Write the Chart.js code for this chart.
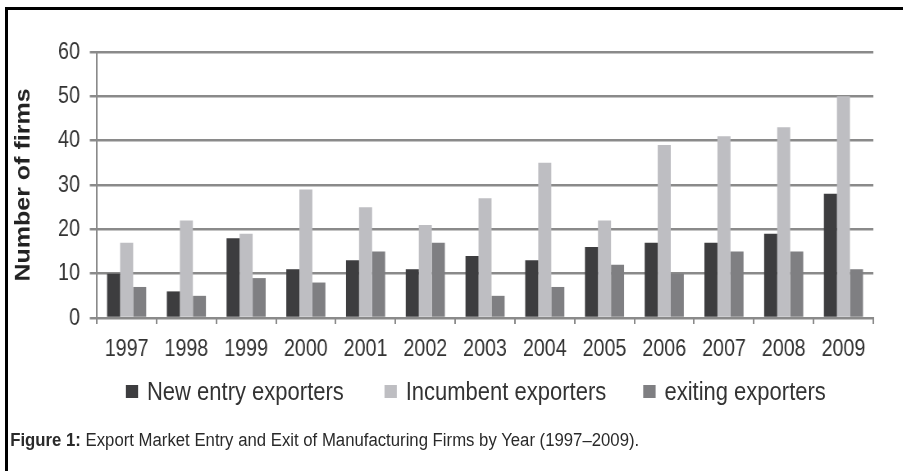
<!DOCTYPE html>
<html lang="en">
<head>
<meta charset="UTF-8">
<title>Export Market Entry and Exit of Manufacturing Firms</title>
<script src="https://cdn.jsdelivr.net/npm/chart.js"></script>
<style>
  html, body { margin: 0; padding: 0; background: #fff; overflow: hidden; }
  body { width: 903px; height: 471px; position: relative; font-family: 'Liberation Sans', Arial, sans-serif; }
  #frame { position: absolute; left: 5px; top: 7px; width: 930px; height: 480px; border-left: 3px solid #000; border-top: 3px solid #000; }
  /* the chart is laid out wide, then squeezed horizontally */
  #squeeze { position: absolute; left: 0; top: 0; width: 1101px; height: 471px; transform: scaleX(0.82); transform-origin: 0 0; }
  #chart { position: absolute; left: 0; top: 0; }
  #legendWrap { position: absolute; left: 0; top: 0; width: 1030px; height: 471px; transform: scaleX(0.88); transform-origin: 0 0; }
  #legend { position: absolute; left: 0; top: 378px; width: 1030px; height: 26px; font-size: 25px; line-height: 26px; color: #333; white-space: nowrap; }
  #legend .item { position: absolute; top: 0; display: flex; align-items: center; }
  #legend .box { width: 14px; height: 13px; margin-right: 10px; }
  #captionWrap { position: absolute; left: 0; top: 0; width: 1000px; height: 471px; transform: scaleX(0.93); transform-origin: 0 0; }
  #caption { position: absolute; left: 11px; top: 431px; font-size: 18px; line-height: 18px; color: #2a2a2a; white-space: nowrap; }
</style>
</head>
<body>
<div id="frame"></div>
<div id="squeeze">
  <canvas id="chart" width="1101" height="366"></canvas>
</div>
<div id="legendWrap">
  <div id="legend"></div>
</div>
<div id="captionWrap">
  <div id="caption"><b>Figure 1:</b> Export Market Entry and Exit of Manufacturing Firms by Year (1997–2009).</div>
</div>

<script>
  // Years on the x axis
  const years = ['1997', '1998', '1999', '2000', '2001', '2002', '2003', '2004', '2005', '2006', '2007', '2008', '2009'];

  // Number of firms per group
  const newEntry  = [10, 6, 18, 11, 13, 11, 14, 13, 16, 17, 17, 19, 28];
  const incumbent = [17, 22, 19, 29, 25, 21, 27, 35, 22, 39, 41, 43, 50];
  const exiting   = [7, 5, 9, 8, 15, 17, 5, 7, 12, 10, 15, 15, 11];

  const seriesNames = ['New entry exporters', 'Incumbent exporters', 'exiting exporters'];
  const seriesColors = ['#3d3d3f', '#bebec2', '#7f7f82'];

  const fontFamily = "'Liberation Sans', Arial, sans-serif";
  const gridColor = '#8a8a8a';

  const chart = new Chart(document.getElementById('chart'), {
    type: 'bar',
    data: {
      labels: years,
      datasets: [newEntry, incumbent, exiting].map((values, i) => ({
        label: seriesNames[i],
        data: values,
        backgroundColor: seriesColors[i],
        borderWidth: 0
      }))
    },
    options: {
      responsive: false,
      animation: false,
      devicePixelRatio: 1,
      layout: { padding: { top: 52, right: 36, left: 0, bottom: 0 } },
      datasets: { bar: { categoryPercentage: 0.655, barPercentage: 1 } },
      plugins: {
        legend: { display: false },
        tooltip: { enabled: false }
      },
      scales: {
        x: {
          grid: { offset: true, drawOnChartArea: false, drawTicks: true, tickLength: 6, color: gridColor, lineWidth: 2 },
          border: { color: gridColor, width: 2 },
          ticks: { font: { family: fontFamily, size: 24 }, color: '#333', padding: 11, maxRotation: 0, autoSkip: false },
          afterFit(scale) { scale.height = 48; }
        },
        y: {
          min: 0,
          max: 60,
          grid: { color: gridColor, lineWidth: 2.5, drawTicks: true, tickLength: 8.5 },
          border: { color: gridColor, width: 2 },
          ticks: { stepSize: 10, font: { family: fontFamily, size: 24 }, color: '#333', padding: 12 },
          title: {
            display: true,
            text: 'Number of firms',
            font: { family: fontFamily, size: 25, weight: 'bold' },
            color: '#222',
            padding: { top: 14, bottom: 0 }
          },
          afterFit(scale) { scale.width = 118; }
        }
      }
    }
  });

  // legend below the chart, built from the datasets
  const legendLeft = [143, 437, 731];
  const legend = document.getElementById('legend');
  chart.data.datasets.forEach((ds, i) => {
    const item = document.createElement('div');
    item.className = 'item';
    item.style.left = legendLeft[i] + 'px';
    const box = document.createElement('span');
    box.className = 'box';
    box.style.background = ds.backgroundColor;
    const text = document.createElement('span');
    text.textContent = ds.label;
    item.appendChild(box);
    item.appendChild(text);
    legend.appendChild(item);
  });
</script>
</body>
</html>
